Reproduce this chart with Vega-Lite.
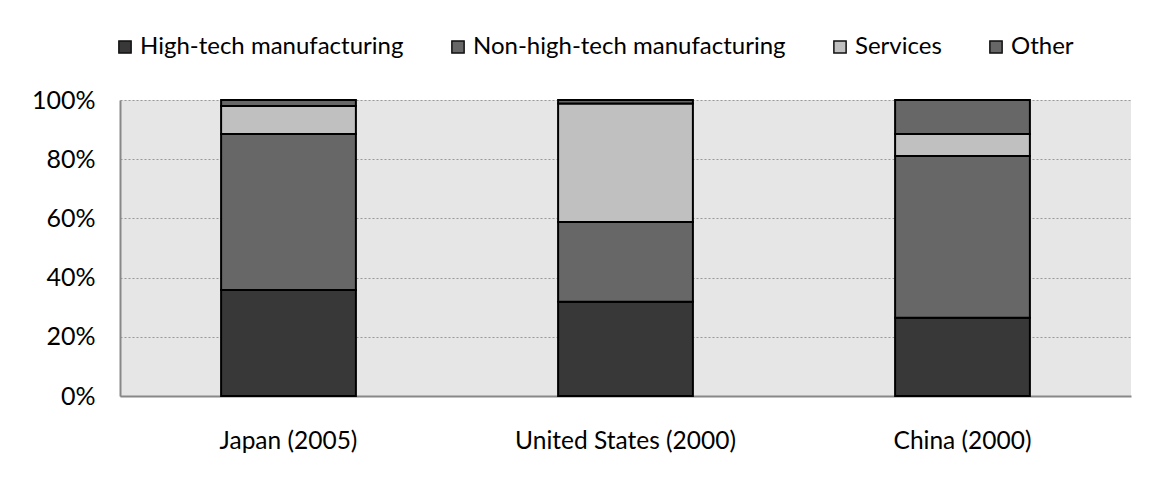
{
  "$schema": "https://vega.github.io/schema/vega-lite/v6.json",
  "width": 1011,
  "height": 296,
  "autosize": {"type": "none"},
  "padding": {"left": 120, "top": 100, "right": 18, "bottom": 85},
  "background": "white",
  "data": {
    "values": [
      {"country": "Japan (2005)", "sector": "High-tech manufacturing", "idx": 1, "share": 0.358},
      {"country": "Japan (2005)", "sector": "Non-high-tech manufacturing", "idx": 2, "share": 0.527},
      {"country": "Japan (2005)", "sector": "Services", "idx": 3, "share": 0.095},
      {"country": "Japan (2005)", "sector": "Other", "idx": 4, "share": 0.02},
      {"country": "United States (2000)", "sector": "High-tech manufacturing", "idx": 1, "share": 0.318},
      {"country": "United States (2000)", "sector": "Non-high-tech manufacturing", "idx": 2, "share": 0.27},
      {"country": "United States (2000)", "sector": "Services", "idx": 3, "share": 0.40},
      {"country": "United States (2000)", "sector": "Other", "idx": 4, "share": 0.012},
      {"country": "China (2000)", "sector": "High-tech manufacturing", "idx": 1, "share": 0.264},
      {"country": "China (2000)", "sector": "Non-high-tech manufacturing", "idx": 2, "share": 0.547},
      {"country": "China (2000)", "sector": "Services", "idx": 3, "share": 0.074},
      {"country": "China (2000)", "sector": "Other", "idx": 4, "share": 0.115}
    ]
  },
  "mark": {"type": "bar", "stroke": "#000000", "strokeWidth": 2},
  "encoding": {
    "x": {
      "field": "country",
      "type": "nominal",
      "sort": null,
      "scale": {"paddingInner": 0.6, "paddingOuter": 0.3},
      "axis": {
        "title": null,
        "labelAngle": 0,
        "labelFont": "Lato",
        "labelFontSize": 24.5,
        "labelColor": "#000000",
        "labelPadding": 33,
        "labelLimit": 0,
        "ticks": false,
        "domain": true,
        "domainColor": "#888888",
        "domainWidth": 2
      }
    },
    "y": {
      "field": "share",
      "type": "quantitative",
      "stack": "zero",
      "scale": {"domain": [0, 1], "nice": false},
      "axis": {
        "title": null,
        "format": ".0%",
        "values": [0, 0.2, 0.4, 0.6, 0.8, 1],
        "labelFont": "Lato",
        "labelFontSize": 25,
        "labelColor": "#000000",
        "labelPadding": 25,
        "ticks": false,
        "domain": true,
        "domainColor": "#888888",
        "domainWidth": 2,
        "grid": true,
        "gridColor": "#999999",
        "gridDash": [2, 2],
        "gridWidth": 1
      }
    },
    "color": {
      "field": "sector",
      "type": "nominal",
      "scale": {
        "domain": ["High-tech manufacturing", "Non-high-tech manufacturing", "Services", "Other"],
        "range": ["#383838", "#676767", "#c0c0c0", "#676767"]
      },
      "legend": {
        "title": null,
        "orient": "none",
        "direction": "horizontal",
        "columns": 4,
        "legendX": -7,
        "legendY": -65,
        "columnPadding": 42,
        "labelFont": "Lato",
        "labelFontSize": 24,
        "labelColor": "#000000",
        "labelOffset": 3,
        "labelLimit": 0,
        "symbolType": "square",
        "symbolSize": 150,
        "symbolStrokeColor": "#111111",
        "symbolStrokeWidth": 1.5,
        "symbolOpacity": 1
      }
    },
    "order": {"field": "idx", "type": "quantitative"}
  },
  "config": {
    "view": {"fill": "#e6e6e6", "stroke": null},
    "legend": {"symbolOpacity": 1}
  }
}
